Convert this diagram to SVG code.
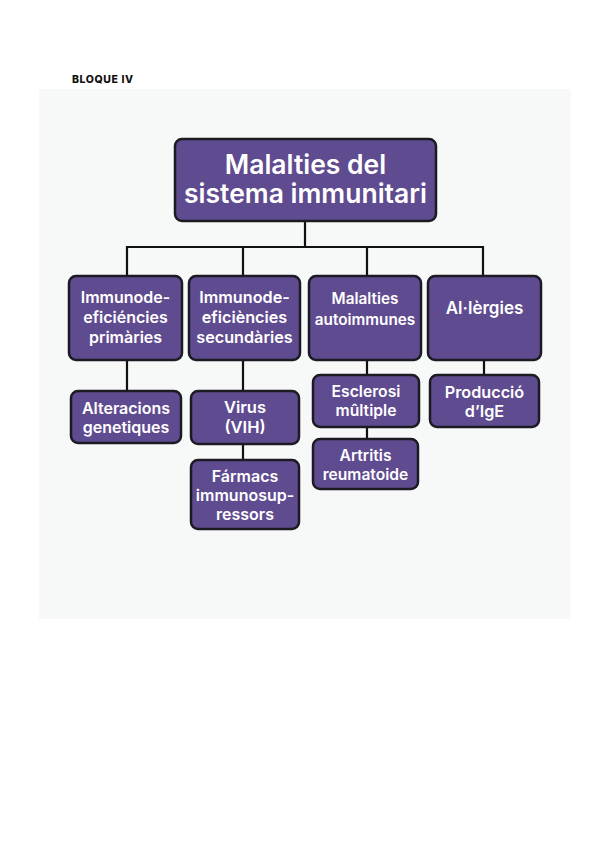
<svg xmlns="http://www.w3.org/2000/svg" width="600" height="848" viewBox="0 0 600 848">
<style>
.box{fill:#5f4b8f;stroke:#1c1a22;stroke-width:2.5}
.t{fill:#ffffff;font-family:Inter,"Liberation Sans",sans-serif;font-weight:600;text-anchor:middle}
.c{fill:none;stroke:#111111;stroke-width:2.2}
</style>
<rect width="600" height="848" fill="#ffffff"/>
<text x="72" y="83" font-family="Inter,'Liberation Sans',sans-serif" font-weight="800" font-size="10.5" letter-spacing="0.6" fill="#111">BLOQUE IV</text>
<rect x="39" y="89" width="532" height="530" fill="#f7f8f8"/>
<g id="connectors">
<path class="c" d="M305 221V247M127 276V247H483V276M243 247V276M367 247V276"/>
<path class="c" d="M127 360V391M243 360V391M243 444V460M367 360V375M367 427V439M484 360V375"/>
</g>
<g id="root"><rect class="box" x="175" y="139" width="261" height="82" rx="7"/>
<text class="t" font-size="26.5"><tspan x="305.5" y="174">Malalties del</tspan><tspan x="305.5" y="203">sistema immunitari</tspan></text></g>
<g id="n1"><rect class="box" x="69" y="276" width="113" height="84" rx="7"/>
<text class="t" font-size="16"><tspan x="125.5" y="303">Immunode-</tspan><tspan x="125.5" y="323">eficiéncies</tspan><tspan x="125.5" y="343">primàries</tspan></text></g>
<g id="n2"><rect class="box" x="189" y="276" width="111" height="84" rx="7"/>
<text class="t" font-size="16.2"><tspan x="244.5" y="303">Immunode-</tspan><tspan x="244.5" y="323">eficiències</tspan><tspan x="244.5" y="343">secundàries</tspan></text></g>
<g id="n3"><rect class="box" x="309" y="276" width="112" height="84" rx="7"/>
<text class="t" font-size="15.3"><tspan x="365" y="304">Malalties</tspan><tspan x="365" y="325">autoimmunes</tspan></text></g>
<g id="n4"><rect class="box" x="428" y="276" width="113" height="84" rx="7"/>
<text class="t" font-size="17" x="484.5" y="314">Al·lèrgies</text></g>
<g id="n5"><rect class="box" x="71" y="391" width="110" height="52" rx="7"/>
<text class="t" font-size="16"><tspan x="126" y="414">Alteracions</tspan><tspan x="126" y="433">genetiques</tspan></text></g>
<g id="n6"><rect class="box" x="191" y="391" width="108" height="53" rx="7"/>
<text class="t" font-size="16.5"><tspan x="245" y="413">Virus</tspan><tspan x="245" y="433">(VIH)</tspan></text></g>
<g id="n7"><rect class="box" x="191" y="460" width="108" height="69" rx="7"/>
<text class="t" font-size="16"><tspan x="245" y="482">Fármacs</tspan><tspan x="245" y="501">immunosup-</tspan><tspan x="245" y="520">ressors</tspan></text></g>
<g id="n8"><rect class="box" x="313" y="375" width="106" height="52" rx="7"/>
<text class="t" font-size="15.7"><tspan x="366" y="397">Esclerosi</tspan><tspan x="366" y="416">mûltiple</tspan></text></g>
<g id="n9"><rect class="box" x="313" y="439" width="105" height="50" rx="7"/>
<text class="t" font-size="15.6"><tspan x="365.5" y="461">Artritis</tspan><tspan x="365.5" y="480">reumatoide</tspan></text></g>
<g id="n10"><rect class="box" x="430" y="375" width="109" height="52" rx="7"/>
<text class="t" font-size="16.2"><tspan x="484.5" y="398">Producció</tspan><tspan x="484.5" y="417">d’IgE</tspan></text></g>
</svg>
